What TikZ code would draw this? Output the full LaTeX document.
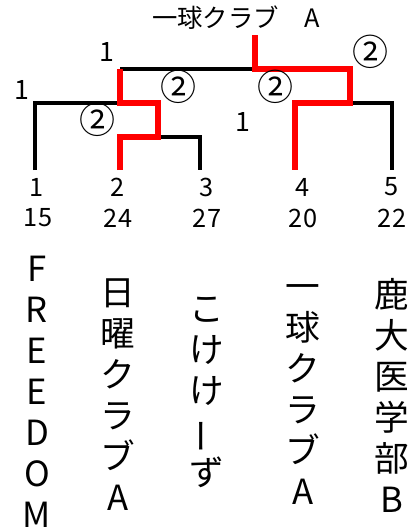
\documentclass[tikz,border=0pt]{standalone}
\usepackage{fontspec}
\setmainfont{Noto Sans CJK JP}
\tikzset{
  bracket/.style={line width=2.6pt, color=black},
  winner/.style={line width=4.2pt, color=red},
  seedno/.style={font=\fontsize{19}{22}\selectfont, inner sep=0pt},
  score/.style={font=\fontsize{20}{24}\selectfont, inner sep=0pt},
  circled/.style={font=\fontsize{27}{30}\selectfont, inner sep=0pt},
  teamname/.style={font=\fontsize{26}{30.75}\selectfont, align=center, inner sep=0pt}
}
\begin{document}
\begin{tikzpicture}[x=0.75pt, y=-0.75pt]
            \useasboundingbox (0,0) rectangle (414,532);
            % champion
            \node[seedno] (champ) at (236,18) {一球クラブ　A};
            % leg ends
            \coordinate (leg1) at (35,170);
            \coordinate (leg2) at (120,170);
            \coordinate (leg3) at (200,170);
            \coordinate (leg4) at (295,170);
            \coordinate (leg5) at (392,170);
            % match points
            \coordinate (m23) at (158,137);
            \coordinate (mleft) at (120,103);
            \coordinate (mright) at (350,103);
            \coordinate (mfinal) at (255,69);
            \coordinate (top) at (255,35);
            % black lines
            \draw[bracket] (leg1) |- (m23 |- mleft);
            \draw[bracket] (m23) -| (leg3);
            \draw[bracket] (mleft |- mfinal) -- (mfinal);
            \draw[bracket] (mright) -| (leg5);
            % red lines
            \draw[winner, line join=miter] (leg2) |- (m23) -- (m23 |- mleft) -- (mleft) -- (mleft |- mfinal);
            \draw[winner, line join=miter] (top) -- (mfinal) -| (mright) -| (leg4);
            % scores
            \node[score] (sc1) at (107,52) {1};
            \node[score] (sc2) at (22,90) {1};
            \node[circled] (sc3) at (178,87) {②};
            \node[circled] (sc4) at (275,87) {②};
            \node[circled] (sc5) at (370,52) {②};
            \node[circled] (sc6) at (97,120) {②};
            \node[score] (sc7) at (243,122) {1};
            % numbers
            \node[seedno] (n1) at (37,187) {1};
            \node[seedno] (n2) at (118,187) {2};
            \node[seedno] (n3) at (207,187) {3};
            \node[seedno] (n4) at (303,187) {4};
            \node[seedno] (n5) at (392,187) {5};
            \node[seedno] (p1) at (38,218) {15};
            \node[seedno] (p2) at (118,218) {24};
            \node[seedno] (p3) at (207,218) {27};
            \node[seedno] (p4) at (303,218) {20};
            \node[seedno] (p5) at (392,218) {22};
            % teams
            \node[teamname] (team1) at (37,392) {F\\R\\E\\E\\D\\O\\M};
            \node[teamname] (team2) at (118,395) {日\\曜\\ク\\ラ\\ブ\\A};
            \node[teamname] (team3) at (207,392) {こ\\け\\け\\\rotatebox[origin=c]{90}{ー}\\ず};
            \node[teamname] (team4) at (303,395) {一\\球\\ク\\ラ\\ブ\\A};
            \node[teamname] (team5) at (392,395) {鹿\\大\\医\\学\\部\\B};
        \end{tikzpicture}
\end{document}
